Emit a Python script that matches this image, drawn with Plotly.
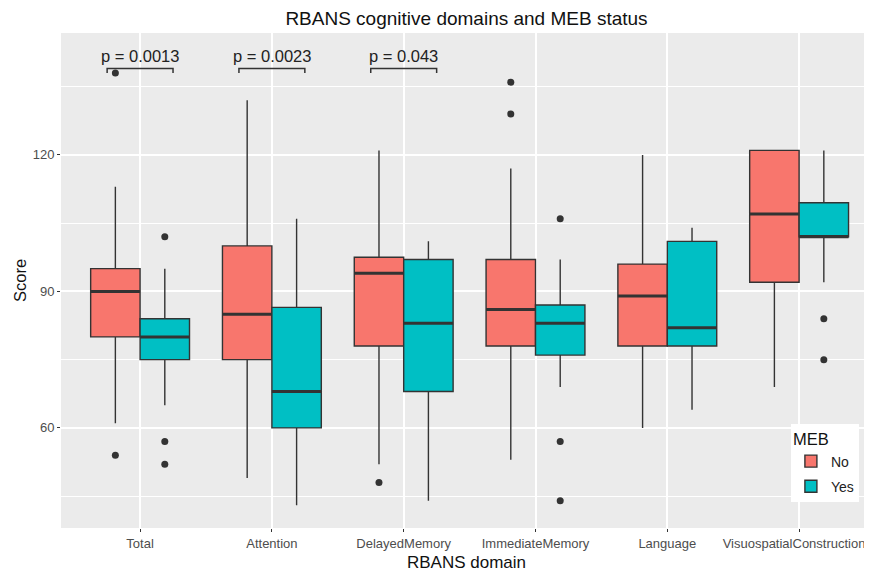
import plotly.graph_objects as go

categories = ["Total", "Attention", "DelayedMemory", "ImmediateMemory", "Language", "VisuospatialConstructional"]

# MEB = No
no_q1 = [80, 75, 78, 78, 78, 92]
no_med = [90, 85, 94, 86, 89, 107]
no_q3 = [95, 100, 97.5, 97, 96, 121]
no_lo = [61, 49, 52, 53, 60, 69]
no_hi = [113, 132, 121, 117, 120, 121]
no_out = [[54, 138], [], [48], [136, 129], [], []]

# MEB = Yes
yes_q1 = [75, 60, 68, 76, 78, 102]
yes_med = [80, 68, 83, 83, 82, 102]
yes_q3 = [84, 86.5, 97, 87, 101, 109.5]
yes_lo = [65, 43, 44, 69, 64, 92]
yes_hi = [95, 106, 101, 97, 104, 121]
yes_out = [[102, 57, 52], [], [], [106, 57, 44], [], [84, 75]]

# significance brackets
p_cats = [0, 1, 2]
p_labels = ["p = 0.0013", "p = 0.0023", "p = 0.043"]
bracket_y = 139
bracket_tip = 138
label_y = 141.7

y_ticks = [60, 90, 120]
y_minor = [45, 75, 105, 135]

RED = "#F8766D"
TEAL = "#00BFC4"
DARK = "#333333"
dodge = 0.1875
bw = 0.375

fig = go.Figure()

def add_group(name, color, q1, med, q3, lo, hi, outs, sign):
    xs = [i + sign * dodge for i in range(len(categories))]
    fig.add_trace(go.Box(
        x=xs, q1=q1, median=med, q3=q3, lowerfence=lo, upperfence=hi,
        width=bw, fillcolor=color, line=dict(color=DARK, width=1.4),
        whiskerwidth=0, boxpoints=False, name=name, legendgroup=name,
        hoverinfo="skip",
    ))
    mx, my = [], []
    for x, m in zip(xs, med):
        mx += [x - bw / 2, x + bw / 2, None]
        my += [m, m, None]
    fig.add_trace(go.Scatter(x=mx, y=my, mode="lines", line=dict(color=DARK, width=3),
                             showlegend=False, hoverinfo="skip"))
    ox, oy = [], []
    for x, vals in zip(xs, outs):
        for v in vals:
            ox.append(x)
            oy.append(v)
    fig.add_trace(go.Scatter(x=ox, y=oy, mode="markers",
                             marker=dict(color=DARK, size=7),
                             showlegend=False, hoverinfo="skip"))

add_group("No", RED, no_q1, no_med, no_q3, no_lo, no_hi, no_out, -1)
add_group("Yes", TEAL, yes_q1, yes_med, yes_q3, yes_lo, yes_hi, yes_out, 1)

bx, by = [], []
for c in p_cats:
    bx += [c - 0.25, c - 0.25, c + 0.25, c + 0.25, None]
    by += [bracket_tip, bracket_y, bracket_y, bracket_tip, None]
fig.add_trace(go.Scatter(x=bx, y=by, mode="lines", line=dict(color=DARK, width=1.5),
                         showlegend=False, hoverinfo="skip"))

for c, t in zip(p_cats, p_labels):
    fig.add_annotation(x=c, y=label_y, text=t, showarrow=False,
                       font=dict(size=16.5, color="#222222"))

fig.update_layout(
    width=864, height=564,
    margin=dict(l=53, r=0, t=25, b=44),
    paper_bgcolor="white",
    plot_bgcolor="#EBEBEB",
    font=dict(family="Liberation Sans, Arial, sans-serif", color="#222222"),
    title=dict(text="RBANS cognitive domains and MEB status", x=0.5, xanchor="center",
               xref="paper", y=0.981, yanchor="middle", font=dict(size=19, color="#111111")),
    boxmode="overlay",
    showlegend=True,
    legend=dict(title=dict(text="MEB", font=dict(size=16.5, color="#111111")),
                x=0.9, y=0.21, xanchor="left", yanchor="top",
                bgcolor="white", font=dict(size=14, color="#222222"),
                tracegroupgap=4, itemwidth=30),
)
fig.update_xaxes(
    tickvals=list(range(len(categories))), ticktext=categories,
    range=[-0.6, 5.553], showgrid=True, gridcolor="white", gridwidth=1.6,
    zeroline=False, ticks="outside", ticklen=3, tickcolor=DARK, tickwidth=1,
    tickfont=dict(size=13, color="#4D4D4D"), automargin=False, ticklabeloverflow="allow",
    title=dict(text="RBANS domain", font=dict(size=17, color="#111111"), standoff=6),
)
fig.update_yaxes(
    tickvals=y_ticks, range=[38.0, 146.8], showgrid=True, gridcolor="white", gridwidth=1.6,
    minor=dict(tickvals=y_minor, showgrid=True, gridcolor="white", gridwidth=0.8, ticks=""),
    zeroline=False, ticks="outside", ticklen=3, tickcolor=DARK, tickwidth=1,
    tickfont=dict(size=13, color="#4D4D4D"), automargin=False,
    title=dict(text="Score", font=dict(size=16.5, color="#111111"), standoff=1),
)

fig.write_html("out.html")
